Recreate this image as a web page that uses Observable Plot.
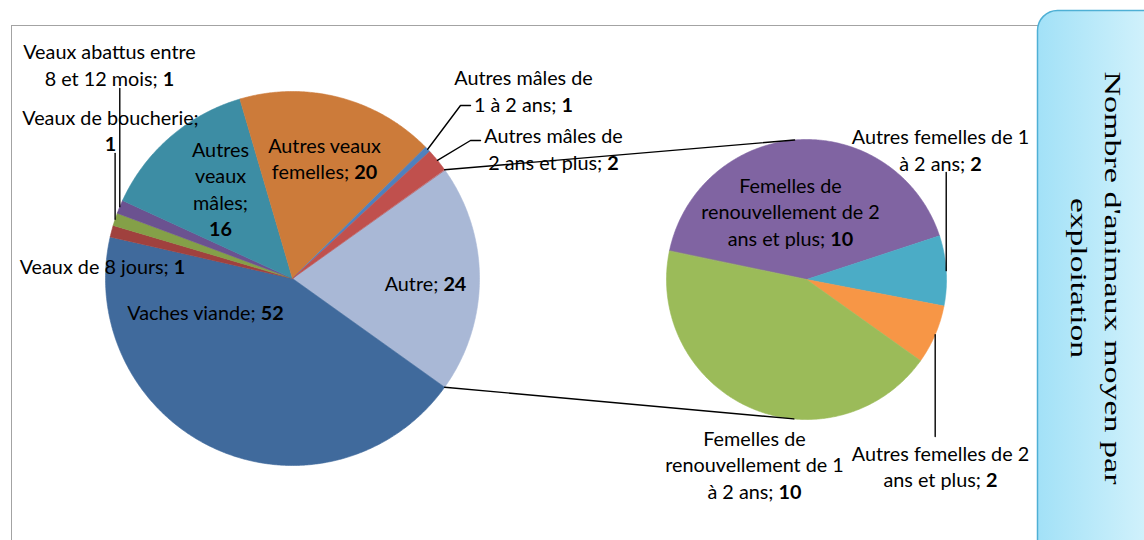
<!DOCTYPE html>
<html><head><meta charset="utf-8">
<script src="https://cdn.jsdelivr.net/npm/d3@7"></script>
<script src="https://cdn.jsdelivr.net/npm/@observablehq/plot@0.6"></script>
<style>
html,body{margin:0;padding:0;background:#fff;}
#wrap{position:relative;width:1144px;height:540px;overflow:hidden;background:#fff;}
#frame{position:absolute;left:11px;top:25px;width:1080px;height:600px;border:1.5px solid #a3a3a3;box-sizing:border-box;}
#chart{position:absolute;left:0;top:0;}
#titlebox{position:absolute;left:0;top:0;}
</style></head>
<body><div id="wrap"><div id="frame"></div><div id="chart"></div><svg id="titlebox" width="1144" height="540"></svg></div>
<script>
// ---------- DATA ----------
const mainNames = ["Vaches viande","Veaux de 8 jours","Veaux de boucherie","Veaux abattus entre 8 et 12 mois","Autres veaux mâles","Autres veaux femelles","Autres mâles de 1 à 2 ans","Autres mâles de 2 ans et plus"];
const mainValues = [52, 1.2, 1.3, 1.4, 16.2, 20.4, 0.6, 2.4];
const mainColors = ["#406A9C","#A0413E","#84A048","#6B5290","#3D8DA4","#CC7B3A","#4F81BD","#C0504D"];
const otherName = "Autre";
const otherColor = "#A9B8D6";
const subNames = ["Femelles de renouvellement de 2 ans et plus","Autres femelles de 1 à 2 ans","Autres femelles de 2 ans et plus","Femelles de renouvellement de 1 à 2 ans"];
const subValues = [9.8, 1.9, 1.6, 10.2];
const subColors = ["#8064A2","#4BACC6","#F79646","#9BBB59"];
const titleLines = ["Nombre d'animaux moyen par","exploitation"];

// ---------- LAYOUT ----------
const W = 1144, H = 540;
const P1 = {cx: 292, cy: 278, r: 187};
const P2 = {cx: 806, cy: 279, r: 140, startDeg: 281.7};
const FONT = "Lato, 'Open Sans', sans-serif";
const FS = 19.8, LINE = 26.5;
// label centre offsets from pie centre, and word-break positions
const labelLayout = {
  "Autre": {dx:133, dy:4, br:[]},
  "Vaches viande": {dx:-87, dy:33, br:[]},
  "Veaux de 8 jours": {dx:-190, dy:-13, br:[]},
  "Veaux de boucherie": {dx:-182, dy:-149, br:[3]},
  "Veaux abattus entre 8 et 12 mois": {dx:-183, dy:-214.5, br:[3]},
  "Autres veaux mâles": {dx:-72, dy:-90.5, br:[1,2,3]},
  "Autres veaux femelles": {dx:32, dy:-121, br:[2]},
  "Autres mâles de 1 à 2 ans": {dx:231, dy:-188.5, br:[3]},
  "Autres mâles de 2 ans et plus": {dx:261, dy:-130.5, br:[3]},
  "Femelles de renouvellement de 2 ans et plus": {dx:-16, dy:-68.5, br:[2,5]},
  "Autres femelles de 1 à 2 ans": {dx:134, dy:-130.5, br:[4]},
  "Autres femelles de 2 ans et plus": {dx:134, dy:186, br:[4]},
  "Femelles de renouvellement de 1 à 2 ans": {dx:-52, dy:184.5, br:[2,5]}
};
// leader polylines after the slice edge point (offsets from pie centre; null = keep x)
const leaderLayout = {
  "Veaux abattus entre 8 et 12 mois": [[null,-190]],
  "Veaux de boucherie": [[null,-125]],
  "Autres mâles de 1 à 2 ans": [[168,-173],[178,-173]],
  "Autres mâles de 2 ans et plus": [[178,-138],[188,-138]],
  "Autres femelles de 1 à 2 ans": [[null,-107]],
  "Autres femelles de 2 ans et plus": [[null,157]]
};

// ---------- GEOMETRY ----------
const otherValue = d3.sum(subValues);
const mainRows = [{name: otherName, value: otherValue, color: otherColor}]
  .concat(mainNames.map((n,i)=>({name:n, value:mainValues[i], color:mainColors[i]})));
const subRows = subNames.map((n,i)=>({name:n, value:subValues[i], color:subColors[i]}));
const mainTotal = d3.sum(mainRows, d=>d.value);
const mainStart = Math.PI/2 - (otherValue/mainTotal)*Math.PI;
const arcs1 = d3.pie().sort(null).value(d=>d.value).startAngle(mainStart).endAngle(mainStart+2*Math.PI)(mainRows);
const s2 = P2.startDeg*Math.PI/180;
const arcs2 = d3.pie().sort(null).value(d=>d.value).startAngle(s2).endAngle(s2+2*Math.PI)(subRows);

const pt = (P, a, r) => ({x: P.cx + r*Math.sin(a), y: P.cy - r*Math.cos(a)});
const slicePts = [];
function addSlices(arcs, P, tag){
  arcs.forEach((a,i)=>{
    const key = tag+i;
    slicePts.push({key, color:a.data.color, ...pt(P,0,0)});
    const n = Math.max(2, Math.ceil((a.endAngle-a.startAngle)/(Math.PI/360)));
    for(let k=0;k<=n;k++){
      const ang = a.startAngle + (a.endAngle-a.startAngle)*k/n;
      slicePts.push({key, color:a.data.color, ...pt(P,ang,P.r)});
    }
  });
}
addSlices(arcs1, P1, "m");
addSlices(arcs2, P2, "s");

// connectors: from the "Autre" edge points, tangent to the second pie
const oa = arcs1[0];
function tangent(p, P, side){
  const dx = p.x-P.cx, dy = p.y-P.cy, d = Math.hypot(dx,dy);
  const base = Math.atan2(dx, -dy);
  return pt(P, base + side*Math.acos(P.r/d), P.r);
}
const q1 = pt(P1, oa.startAngle, P1.r), q2 = pt(P1, oa.endAngle, P1.r);
const linePts = [
  {key:"c1", ...q1}, {key:"c1", ...tangent(q1,P2,1)},
  {key:"c2", ...q2}, {key:"c2", ...tangent(q2,P2,-1)}
];

// labels and leaders
const labels = [];
function addLabels(arcs, P){
  arcs.forEach(a=>{
    const name = a.data.name, L = labelLayout[name];
    const words = (name + "; " + Math.round(a.data.value)).split(" ");
    const lines = []; let prev = 0;
    L.br.concat([words.length]).forEach(b=>{ lines.push(words.slice(prev,b).join(" ")); prev=b; });
    labels.push({x: P.cx+L.dx, y: P.cy+L.dy, text: lines.join("\n")});
    const ld = leaderLayout[name];
    if(ld){
      const s = pt(P, (a.startAngle+a.endAngle)/2, P.r);
      linePts.push({key:"l"+name, ...s});
      ld.forEach(([dx,dy])=>linePts.push({key:"l"+name, x: dx===null ? s.x : P.cx+dx, y: P.cy+dy}));
    }
  });
}
addLabels(arcs1, P1);
addLabels(arcs2, P2);

// ---------- PLOT ----------
const plot = Plot.plot({
  width: W, height: H, margin: 0,
  x: {domain:[0,W], range:[0,W], axis:null},
  y: {domain:[0,H], range:[0,H], axis:null},
  color: {type:"identity"},
  style: {background:"transparent", overflow:"visible"},
  marks: [
    Plot.line(slicePts, {x:"x", y:"y", z:"key", fill:"color", stroke:"color", strokeWidth:0.6, curve:"linear-closed"}),
    Plot.line(linePts, {x:"x", y:"y", z:"key", stroke:"#000", strokeWidth:1.4}),
    Plot.text(labels, {x:"x", y:"y", text:"text", fontSize:FS, fontFamily:FONT, lineHeight: LINE/FS, textAnchor:"middle", lineAnchor:"middle", fill:"#000"})
  ]
});
// bold numbers
const NS = "http://www.w3.org/2000/svg";
plot.querySelectorAll("text").forEach(t=>{
  const ts = t.querySelectorAll("tspan");
  const leaves = ts.length ? [...ts] : [t];
  leaves.forEach(el=>{
    const s = el.textContent;
    const m = s.match(/^(.*; )(\d+)$/) || s.match(/^()(\d+)$/);
    if(m){
      el.textContent = m[1];
      const b = document.createElementNS(NS,"tspan");
      b.setAttribute("font-weight","bold");
      b.textContent = m[2];
      el.appendChild(b);
    }
  });
});
document.getElementById("chart").appendChild(plot);

// ---------- TITLE BOX ----------
const tb = d3.select("#titlebox");
const grad = tb.append("defs").append("linearGradient").attr("id","tg").attr("x1","0").attr("x2","1").attr("y1","0").attr("y2","0");
grad.append("stop").attr("offset","0").attr("stop-color","#a2e1f7");
grad.append("stop").attr("offset","1").attr("stop-color","#def6fd");
tb.append("rect").attr("x",1037.5).attr("y",10.5).attr("width",140).attr("height",580).attr("rx",20)
  .attr("fill","url(#tg)").attr("stroke","#4fb0d5").attr("stroke-width",1.5);
const tl = [{x:1105, len:413},{x:1071, len:160}];
titleLines.forEach((s,i)=>{
  tb.append("text").attr("transform",`translate(${tl[i].x},278) rotate(90)`)
    .attr("text-anchor","middle").attr("font-family","'Liberation Serif', 'DejaVu Serif', serif")
    .attr("font-size",23).attr("fill","#000")
    .attr("textLength",tl[i].len).attr("lengthAdjust","spacingAndGlyphs").text(s);
});
</script>
</body></html>
